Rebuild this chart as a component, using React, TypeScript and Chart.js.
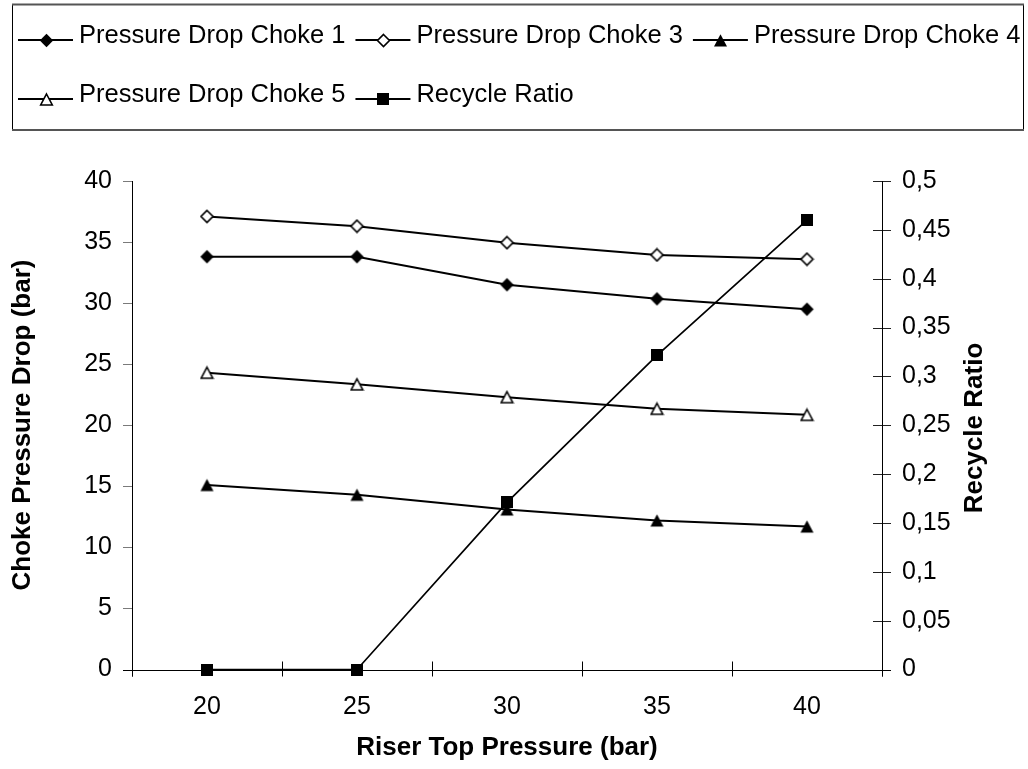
import React, { useEffect, useRef } from 'react';
import { Chart, registerables } from 'chart.js';

Chart.register(...registerables);

// ---------- data ----------
const categories = ['20', '25', '30', '35', '40'];
const choke1 = [33.8, 33.8, 31.5, 30.35, 29.5];
const choke3 = [37.1, 36.3, 34.95, 33.95, 33.6];
const choke4 = [15.1, 14.3, 13.1, 12.2, 11.7];
const choke5 = [24.3, 23.35, 22.3, 21.35, 20.85];
const recycle = [0, 0, 0.171, 0.3215, 0.46];
const seriesNames = [
  'Pressure Drop Choke 1',
  'Pressure Drop Choke 3',
  'Pressure Drop Choke 4',
  'Pressure Drop Choke 5',
  'Recycle Ratio',
];
const xTitle = 'Riser Top Pressure (bar)';
const yTitle = 'Choke Pressure Drop (bar)';
const y1Title = 'Recycle Ratio';

const FONT = '"Liberation Sans", Arial, sans-serif';

function makeMarker(kind: string): HTMLCanvasElement {
  const c = document.createElement('canvas');
  const size = kind === 'square' ? 12 : 15;
  c.width = size;
  c.height = size;
  const g = c.getContext('2d')!;
  g.lineJoin = 'miter';
  if (kind === 'square') {
    g.fillStyle = '#000';
    g.fillRect(0, 0, 12, 12);
    return c;
  }
  g.beginPath();
  if (kind === 'diamondFilled') {
    g.moveTo(7.5, 0.8); g.lineTo(14.2, 7.5); g.lineTo(7.5, 14.2); g.lineTo(0.8, 7.5);
  } else if (kind === 'diamondOpen') {
    g.moveTo(7.5, 1.5); g.lineTo(13.5, 7.5); g.lineTo(7.5, 13.5); g.lineTo(1.5, 7.5);
  } else if (kind === 'triangleFilled') {
    g.moveTo(7.5, 1.2); g.lineTo(14, 13.5); g.lineTo(1, 13.5);
  } else {
    g.moveTo(7.5, 2); g.lineTo(13.3, 13); g.lineTo(1.7, 13);
  }
  g.closePath();
  if (kind === 'diamondFilled' || kind === 'triangleFilled') {
    g.fillStyle = '#000';
    g.fill();
  } else {
    g.fillStyle = '#fff';
    g.fill();
    g.strokeStyle = '#000';
    g.lineWidth = 1.6;
    g.stroke();
  }
  return c;
}

export default function App() {
  const ref = useRef<HTMLCanvasElement>(null);

  useEffect(() => {
    const markers = [
      makeMarker('diamondFilled'),
      makeMarker('diamondOpen'),
      makeMarker('triangleFilled'),
      makeMarker('triangleOpen'),
      makeMarker('square'),
    ];
    const seriesValues = [choke1, choke3, choke4, choke5, recycle];

    const decor = {
      id: 'decor',
      beforeDatasetsDraw(chart: any) {
        const ctx = chart.ctx;
        const { left, right, top, bottom } = chart.chartArea;
        const ys = chart.scales.y;
        const y1 = chart.scales.y1;
        const xs = chart.scales.x;
        ctx.save();
        ctx.lineWidth = 1;
        ctx.strokeStyle = '#7a7a7a';
        ys.ticks.forEach((_t: any, i: number) => {
          const py = Math.round(ys.getPixelForTick(i)) + 0.5;
          ctx.beginPath(); ctx.moveTo(left - 9, py); ctx.lineTo(left, py); ctx.stroke();
        });
        ctx.strokeStyle = '#222';
        y1.ticks.forEach((_t: any, i: number) => {
          const py = Math.round(y1.getPixelForTick(i)) + 0.5;
          ctx.beginPath(); ctx.moveTo(right - 9, py); ctx.lineTo(right + 9, py); ctx.stroke();
        });
        ctx.strokeStyle = '#000';
        for (let i = 0; i <= categories.length; i++) {
          const px = Math.round(xs.getPixelForValue(i - 0.5)) + 0.5;
          ctx.beginPath(); ctx.moveTo(px, bottom - 8); ctx.lineTo(px, bottom + 7); ctx.stroke();
        }
        ctx.strokeStyle = '#000';
        const lx = Math.round(left) + 0.5;
        const rx = Math.round(right) + 0.5;
        const by = Math.round(bottom) + 0.5;
        ctx.beginPath(); ctx.moveTo(lx, top); ctx.lineTo(lx, bottom + 7); ctx.stroke();
        ctx.beginPath(); ctx.moveTo(rx, top); ctx.lineTo(rx, bottom + 7); ctx.stroke();
        ctx.beginPath(); ctx.moveTo(left - 9, by); ctx.lineTo(right + 9, by); ctx.stroke();
        ctx.restore();
      },
      afterDraw(chart: any) {
        const ctx = chart.ctx;
        ctx.save();
        ctx.fillStyle = '#000';
        ctx.font = `bold 26px ${FONT}`;
        ctx.textAlign = 'center';
        ctx.textBaseline = 'middle';
        ctx.fillText(xTitle, 507, 748);
        ctx.save();
        ctx.translate(23, 425);
        ctx.rotate(-Math.PI / 2);
        ctx.fillText(yTitle, 0, 0);
        ctx.restore();
        ctx.save();
        ctx.translate(975, 428);
        ctx.rotate(-Math.PI / 2);
        ctx.fillText(y1Title, 0, 0);
        ctx.restore();

        // legend box
        const bx = 12, by = 4, bw = 1011, bh = 126;
        ctx.fillStyle = '#fff';
        ctx.fillRect(bx, by, bw, bh);
        ctx.lineWidth = 1;
        ctx.strokeStyle = '#000';
        ctx.beginPath();
        ctx.moveTo(bx + 0.5, by); ctx.lineTo(bx + 0.5, by + bh);
        ctx.moveTo(bx + bw + 0.5, by); ctx.lineTo(bx + bw + 0.5, by + bh);
        ctx.stroke();
        ctx.lineWidth = 2;
        ctx.strokeStyle = '#555';
        ctx.beginPath();
        ctx.moveTo(bx, by + 0.5); ctx.lineTo(bx + bw + 1, by + 0.5);
        ctx.moveTo(bx, by + bh); ctx.lineTo(bx + bw + 1, by + bh);
        ctx.stroke();

        ctx.save();
        ctx.beginPath();
        ctx.rect(bx + 1, by + 1, bw - 1, bh - 1);
        ctx.clip();
        ctx.font = `25.5px ${FONT}`;
        ctx.textAlign = 'left';
        ctx.textBaseline = 'alphabetic';
        ctx.fillStyle = '#000';
        const rows = [[0, 1, 2], [3, 4]];
        const baselines = [43, 102];
        rows.forEach((row, r) => {
          let x = 18;
          const base = baselines[r];
          const ly = Math.round(base - 3);
          row.forEach((si) => {
            ctx.strokeStyle = '#000';
            ctx.lineWidth = 2;
            ctx.beginPath(); ctx.moveTo(x, ly); ctx.lineTo(x + 55, ly); ctx.stroke();
            const m = markers[si];
            ctx.drawImage(m, Math.round(x + 28 - m.width / 2), Math.round(ly - m.height / 2));
            ctx.fillText(seriesNames[si], x + 61, base);
            x = x + 61 + ctx.measureText(seriesNames[si]).width + 10;
          });
        });
        ctx.restore();
        ctx.restore();
      },
    };

    const datasets = seriesValues.map((vals, i) => ({
      label: seriesNames[i],
      data: vals,
      yAxisID: i === 4 ? 'y1' : 'y',
      borderColor: '#000',
      backgroundColor: '#000',
      borderWidth: i === 4 ? 1.7 : 2,
      pointStyle: markers[i] as any,
      pointRadius: 7,
      pointHoverRadius: 7,
      tension: 0,
      clip: false as any,
    }));

    const chart = new Chart(ref.current!, {
      type: 'line',
      data: { labels: categories, datasets },
      plugins: [decor],
      options: {
        animation: false,
        responsive: false,
        devicePixelRatio: 1,
        events: [],
        layout: { padding: { top: 181, left: 0, right: 0, bottom: 0 } },
        plugins: { legend: { display: false }, tooltip: { enabled: false }, title: { display: false } },
        scales: {
          x: {
            type: 'category',
            offset: true,
            grid: { display: false, drawTicks: false, offset: true },
            border: { display: false },
            ticks: { color: '#000', font: { family: FONT, size: 25 }, padding: 23, maxRotation: 0, autoSkip: false },
            afterFit: (s: any) => { s.height = 99.5; },
          },
          y: {
            type: 'linear',
            position: 'left',
            min: 0,
            max: 40,
            grid: { display: false, drawTicks: false },
            border: { display: false },
            ticks: { stepSize: 5, color: '#000', font: { family: FONT, size: 25 }, padding: 20 },
            afterFit: (s: any) => { s.width = 132; },
          },
          y1: {
            type: 'linear',
            position: 'right',
            min: 0,
            max: 0.5,
            grid: { display: false, drawTicks: false },
            border: { display: false },
            ticks: {
              stepSize: 0.05,
              color: '#000',
              font: { family: FONT, size: 25 },
              padding: 20,
              callback: (v: any) => String(Math.round(Number(v) * 100) / 100).replace('.', ','),
            },
            afterFit: (s: any) => { s.width = 146; },
          },
        },
      } as any,
    });
    return () => chart.destroy();
  }, []);

  return (
    <div style={{ position: 'fixed', left: 0, top: 0, width: 1028, height: 769, background: '#fff' }}>
      <canvas ref={ref} width={1028} height={769} style={{ display: 'block' }} />
    </div>
  );
}
